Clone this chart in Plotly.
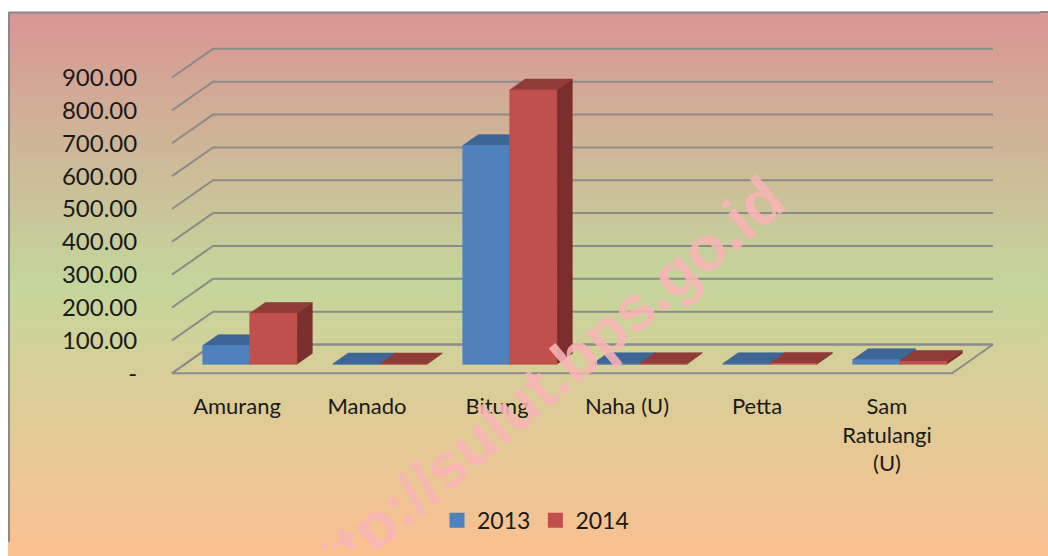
import plotly.graph_objects as go

# ---------------- data ----------------
categories = ["Amurang", "Manado", "Bitung", "Naha (U)", "Petta", "Sam Ratulangi (U)"]
category_tick_text = ["Amurang", "Manado", "Bitung", "Naha (U)", "Petta", "Sam<br>Ratulangi<br>(U)"]
series_names = ["2013", "2014"]
values_2013 = [57, 1, 666, 2, 2, 14]
values_2014 = [155, 1, 835, 2, 3, 9]
y_tick_vals = [0, 100, 200, 300, 400, 500, 600, 700, 800, 900]
y_tick_text = ["-", "100.00", "200.00", "300.00", "400.00", "500.00",
               "600.00", "700.00", "800.00", "900.00"]

# ---------------- page / figure geometry ----------------
# The page body has an 8px margin; the figure is sized so the page does not overflow.
OFF = 8
FW, FH = 1040, 540

def fx(px):   # page x pixel -> paper fraction
    return (px - OFF) / FW

def fy(py):   # page y pixel -> paper fraction
    return 1 - (py - OFF) / FH

PX_PER_CAT = 130.0
CAT0_PX = 237.0
PX_PER_UNIT = 0.3322
ZERO_PY = 377.3
DX = 41.0 / PX_PER_CAT          # depth shift (category units)
DY = 29.0 / PX_PER_UNIT         # depth shift (value units)
D0, D1 = 9.0 / 29.0, 20.0 / 29.0  # bar depth span
BW = 47.0 / PX_PER_CAT          # bar width per series

X_LEFT_PX, X_RIGHT_PX = 165.0, 1005.0
Y_BOT_PX, Y_TOP_PX = 385.0, 40.0
x_range = [(X_LEFT_PX - CAT0_PX) / PX_PER_CAT, (X_RIGHT_PX - CAT0_PX) / PX_PER_CAT]
y_range = [(ZERO_PY - Y_BOT_PX) / PX_PER_UNIT, (ZERO_PY - Y_TOP_PX) / PX_PER_UNIT]

FONT = "Lato"
GRID = "#8b8b8b"
PEACH = "rgb(250,192,144)"
colors = {
    "2013": {"front": "#4F81BD", "top": "#3D6596", "side": "#34577F"},
    "2014": {"front": "#C0504D", "top": "#913B39", "side": "#7B2E2D"},
}

fig = go.Figure()

# legend-only entries (square swatches)
for name in series_names:
    fig.add_trace(go.Scatter(x=[None], y=[None], mode="markers", name=name,
                             marker=dict(symbol="square", size=15, color=colors[name]["front"],
                                         line=dict(width=0))))

# ---- gridlines (side wall diagonal + back wall) ----
gx, gy = [], []
n = len(categories)
xl_all, xr_all = -0.5, n - 0.5
for v in y_tick_vals:
    gx += [xl_all, xl_all + DX, xr_all + DX, None]
    gy += [v, v + DY, v + DY, None]
fig.add_trace(go.Scatter(x=gx, y=gy, mode="lines", line=dict(color=GRID, width=2),
                         hoverinfo="skip", showlegend=False))
# floor outline
fig.add_trace(go.Scatter(x=[xl_all, xr_all, xr_all + DX, xl_all + DX, xl_all],
                         y=[0, 0, DY, DY, 0], mode="lines",
                         line=dict(color=GRID, width=2), hoverinfo="skip", showlegend=False))

# ---- 3D bars built from the values ----
def faces(xl, xr, v):
    fxl = xl + D0 * DX
    fxr = xr + D0 * DX
    bxl = xl + D1 * DX
    bxr = xr + D1 * DX
    y0, y1 = D0 * DY, D1 * DY
    front = ([fxl, fxr, fxr, fxl, fxl], [y0, y0, v + y0, v + y0, y0])
    top = ([fxl, fxr, bxr, bxl, fxl], [v + y0, v + y0, v + y1, v + y1, v + y0])
    side = ([fxr, bxr, bxr, fxr, fxr], [y0, y1, v + y1, v + y0, y0])
    return front, top, side

for s, (name, vals) in enumerate(zip(series_names, [values_2013, values_2014])):
    packs = {"side": ([], []), "top": ([], []), "front": ([], [])}
    for i, v in enumerate(vals):
        xl = i - BW + s * BW
        xr = xl + BW
        fr, tp, sd = faces(xl, xr, v)
        for key, poly in (("side", sd), ("top", tp), ("front", fr)):
            packs[key][0].extend(poly[0] + [None])
            packs[key][1].extend(poly[1] + [None])
    for key in ("side", "top", "front"):
        c = colors[name][key]
        fig.add_trace(go.Scatter(x=packs[key][0], y=packs[key][1], mode="lines",
                                 fill="toself", fillcolor=c,
                                 line=dict(color=c, width=0.6),
                                 name=name, legendgroup=name, showlegend=False,
                                 hoverinfo="skip"))

# ---------------- background gradient ----------------
stops = [(12, (217, 150, 148)), (285, (196, 214, 155)), (560, (250, 192, 144))]
def col_at(py):
    for (p0, c0), (p1, c1) in zip(stops[:-1], stops[1:]):
        if py <= p1:
            t = max(0.0, (py - p0) / (p1 - p0))
            return "rgb(%d,%d,%d)" % tuple(round(a + (b - a) * t) for a, b in zip(c0, c1))
    return "rgb(%d,%d,%d)" % stops[-1][1]

shapes = [dict(type="rect", xref="paper", yref="paper", layer="below",
               x0=0, x1=1, y0=fy(12), y1=1, fillcolor="white", line=dict(width=0)),
          dict(type="rect", xref="paper", yref="paper", layer="below",
               x0=0, x1=fx(8.5), y0=0, y1=1, fillcolor="white", line=dict(width=0))]
band = 3
py = 12
while py < OFF + FH:
    shapes.append(dict(type="rect", xref="paper", yref="paper", layer="below",
                       x0=fx(9), x1=1.0, y0=max(0.0, fy(py + band + 1.5)), y1=fy(py),
                       fillcolor=col_at(py + band / 2), line=dict(width=0)))
    py += band
# chart border (left and top)
shapes.append(dict(type="line", xref="paper", yref="paper", layer="below",
                   x0=fx(9), x1=fx(9), y0=0, y1=fy(12), line=dict(color="#8a8a8a", width=2)))
shapes.append(dict(type="line", xref="paper", yref="paper", layer="below",
                   x0=fx(9), x1=1, y0=fy(12.5), y1=fy(12.5), line=dict(color="#8a8a8a", width=2)))

fig.update_layout(
    width=FW, height=FH, autosize=False,
    margin=dict(l=0, r=0, t=0, b=0),
    paper_bgcolor=PEACH, plot_bgcolor="rgba(0,0,0,0)",
    shapes=shapes,
    showlegend=True,
    legend=dict(orientation="h", x=fx(437), y=fy(526), xanchor="left", yanchor="middle",
                font=dict(family=FONT, size=23, color="#1a1a1a"),
                bgcolor="rgba(0,0,0,0)", traceorder="normal"),
    xaxis=dict(domain=[fx(X_LEFT_PX), fx(X_RIGHT_PX)], range=x_range,
               tickmode="array", tickvals=list(range(n)), ticktext=category_tick_text,
               showgrid=False, zeroline=False, showline=False,
               ticks="outside", ticklen=6, tickcolor="rgba(0,0,0,0)",
               tickfont=dict(family=FONT, size=22, color="#1a1a1a"), fixedrange=True),
    yaxis=dict(domain=[fy(Y_BOT_PX), fy(Y_TOP_PX)], range=y_range,
               tickmode="array", tickvals=y_tick_vals, ticktext=y_tick_text,
               showgrid=False, zeroline=False, showline=False,
               ticks="outside", ticklen=22, tickcolor="rgba(0,0,0,0)",
               tickfont=dict(family=FONT, size=24, color="#1a1a1a"), fixedrange=True),
    annotations=[dict(text="<b>http://sulut.bps.go.id</b>", xref="paper", yref="paper",
                      x=fx(536), y=fy(394), xanchor="center", yanchor="middle",
                      textangle=-40, showarrow=False,
                      font=dict(family="Liberation Sans", size=63, color="rgba(248,180,182,0.88)"))],
)

# page margin strips (outside the figure) painted to continue the chart background
page_bg = ("document.body.style.background = 'linear-gradient(to right, #ffffff 0px, #ffffff 8px, "
           "rgba(255,255,255,0) 8px) no-repeat, linear-gradient(to bottom, #ffffff 0px, #ffffff 11.5px, "
           "#8a8a8a 11.5px, #8a8a8a 13.5px, rgb(217,150,148) 13.5px, rgb(196,214,155) 285px, "
           "rgb(250,192,144) 560px) no-repeat rgb(250,192,144)';")

fig.write_html("out.html", config={"displayModeBar": False}, post_script=page_bg)
